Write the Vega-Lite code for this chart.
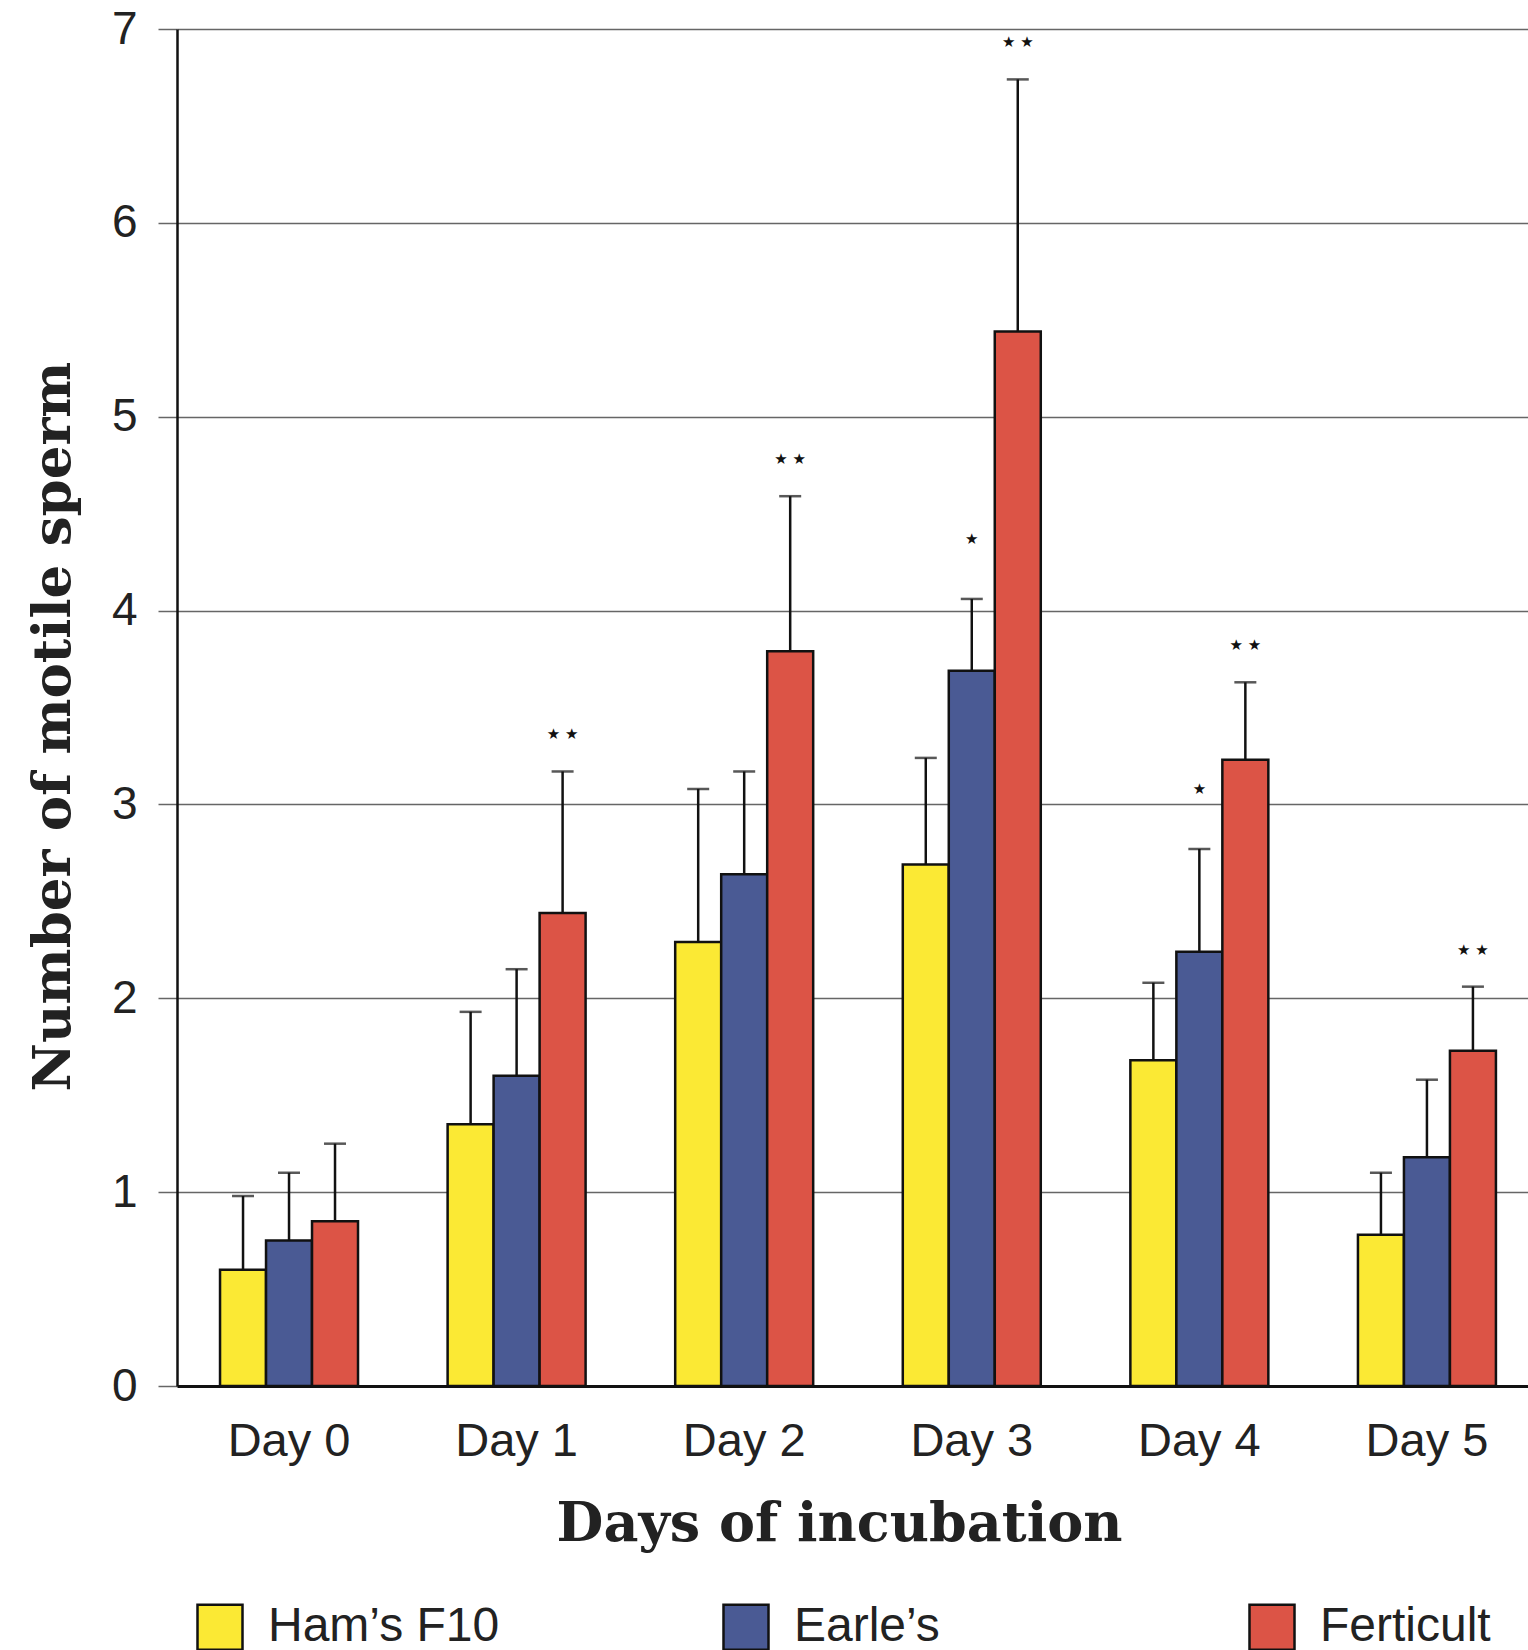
{
  "$schema": "https://vega.github.io/schema/vega-lite/v6.json",
  "autosize": "none",
  "width": 1351,
  "height": 1357,
  "padding": {"left": 177, "top": 29, "right": 0, "bottom": 264},
  "background": "white",
  "data": {"values": [
    {"day": "Day 0", "medium": "Ham’s F10", "mean": 0.60, "err": 0.98, "sig": ""},
    {"day": "Day 0", "medium": "Earle’s", "mean": 0.75, "err": 1.10, "sig": ""},
    {"day": "Day 0", "medium": "Ferticult", "mean": 0.85, "err": 1.25, "sig": ""},
    {"day": "Day 1", "medium": "Ham’s F10", "mean": 1.35, "err": 1.93, "sig": ""},
    {"day": "Day 1", "medium": "Earle’s", "mean": 1.60, "err": 2.15, "sig": ""},
    {"day": "Day 1", "medium": "Ferticult", "mean": 2.44, "err": 3.17, "sig": "★  ★"},
    {"day": "Day 2", "medium": "Ham’s F10", "mean": 2.29, "err": 3.08, "sig": ""},
    {"day": "Day 2", "medium": "Earle’s", "mean": 2.64, "err": 3.17, "sig": ""},
    {"day": "Day 2", "medium": "Ferticult", "mean": 3.79, "err": 4.59, "sig": "★  ★"},
    {"day": "Day 3", "medium": "Ham’s F10", "mean": 2.69, "err": 3.24, "sig": ""},
    {"day": "Day 3", "medium": "Earle’s", "mean": 3.69, "err": 4.06, "sig": "★"},
    {"day": "Day 3", "medium": "Ferticult", "mean": 5.44, "err": 6.74, "sig": "★  ★"},
    {"day": "Day 4", "medium": "Ham’s F10", "mean": 1.68, "err": 2.08, "sig": ""},
    {"day": "Day 4", "medium": "Earle’s", "mean": 2.24, "err": 2.77, "sig": "★"},
    {"day": "Day 4", "medium": "Ferticult", "mean": 3.23, "err": 3.63, "sig": "★  ★"},
    {"day": "Day 5", "medium": "Ham’s F10", "mean": 0.78, "err": 1.10, "sig": ""},
    {"day": "Day 5", "medium": "Earle’s", "mean": 1.18, "err": 1.58, "sig": ""},
    {"day": "Day 5", "medium": "Ferticult", "mean": 1.73, "err": 2.06, "sig": "★  ★"}
  ]},
  "encoding": {
    "x": {
      "field": "day", "type": "nominal",
      "sort": ["Day 0", "Day 1", "Day 2", "Day 3", "Day 4", "Day 5"],
      "scale": {"paddingInner": 0.3937, "paddingOuter": 0.165, "align": 0.573},
      "axis": {
        "title": "Days of incubation",
        "labelAngle": 0,
        "labelFont": "Liberation Sans", "labelFontSize": 47, "labelColor": "#222",
        "labelPadding": 32, "ticks": false,
        "domainColor": "#111", "domainWidth": 3,
        "titleFont": "DejaVu Serif", "titleFontWeight": "bold", "titleFontSize": 54, "titleColor": "#222",
        "titleX": 662, "titleY": 138, "titleBaseline": "middle", "titleAlign": "center"
      }
    },
    "xOffset": {"field": "medium", "type": "nominal", "sort": ["Ham’s F10", "Earle’s", "Ferticult"]}
  },
  "layer": [
    {
      "mark": {"type": "bar", "stroke": "#111", "strokeWidth": 2.5},
      "encoding": {
        "y": {
          "field": "mean", "type": "quantitative",
          "scale": {"domain": [0, 7], "nice": false},
          "axis": {
            "title": "Number of motile sperm",
            "values": [0, 1, 2, 3, 4, 5, 6, 7], "format": "d",
            "grid": true, "gridColor": "#666", "gridWidth": 1.5,
            "tickSize": 19, "tickColor": "#666", "tickWidth": 1.5,
            "labelFont": "Liberation Sans", "labelFontSize": 46, "labelColor": "#222", "labelPadding": 21,
            "domainColor": "#111", "domainWidth": 2.5,
            "titleFont": "DejaVu Serif", "titleFontWeight": "bold", "titleFontSize": 53, "titleColor": "#222",
            "titleX": -124, "titleY": 697, "titleAngle": 270, "titleBaseline": "middle", "titleAlign": "center"
          }
        },
        "color": {
          "field": "medium", "type": "nominal",
          "sort": ["Ham’s F10", "Earle’s", "Ferticult"],
          "scale": {"domain": ["Ham’s F10", "Earle’s", "Ferticult"], "range": ["#FBE934", "#4A5A94", "#DC5446"]},
          "legend": {
            "title": null, "orient": "none", "legendX": 19, "legendY": 1574,
            "direction": "horizontal", "columns": 3, "gridAlign": "all", "columnPadding": 218,
            "symbolType": "square", "symbolSize": 2025, "symbolStrokeColor": "#111", "symbolStrokeWidth": 2.5,
            "labelFont": "Liberation Sans", "labelFontSize": 48, "labelColor": "#222", "labelOffset": 24,
            "labelLimit": 400, "padding": 0
          }
        }
      }
    },
    {
      "mark": {"type": "rule", "color": "#111", "strokeWidth": 2.5},
      "encoding": {
        "y": {"field": "mean", "type": "quantitative"},
        "y2": {"field": "err"}
      }
    },
    {
      "mark": {"type": "tick", "color": "#111", "thickness": 2.5, "size": 22, "orient": "horizontal"},
      "encoding": {
        "y": {"field": "err", "type": "quantitative"}
      }
    },
    {
      "transform": [{"filter": "datum.sig == '★  ★'"}],
      "mark": {"type": "text", "font": "DejaVu Sans", "fontSize": 15, "color": "#111", "dy": -37, "baseline": "middle"},
      "encoding": {
        "y": {"field": "err", "type": "quantitative"},
        "text": {"field": "sig"}
      }
    },
    {
      "transform": [{"filter": "datum.sig == '★'"}],
      "mark": {"type": "text", "font": "DejaVu Sans", "fontSize": 15, "color": "#111", "dy": -60, "baseline": "middle"},
      "encoding": {
        "y": {"field": "err", "type": "quantitative"},
        "text": {"field": "sig"}
      }
    }
  ]
}
